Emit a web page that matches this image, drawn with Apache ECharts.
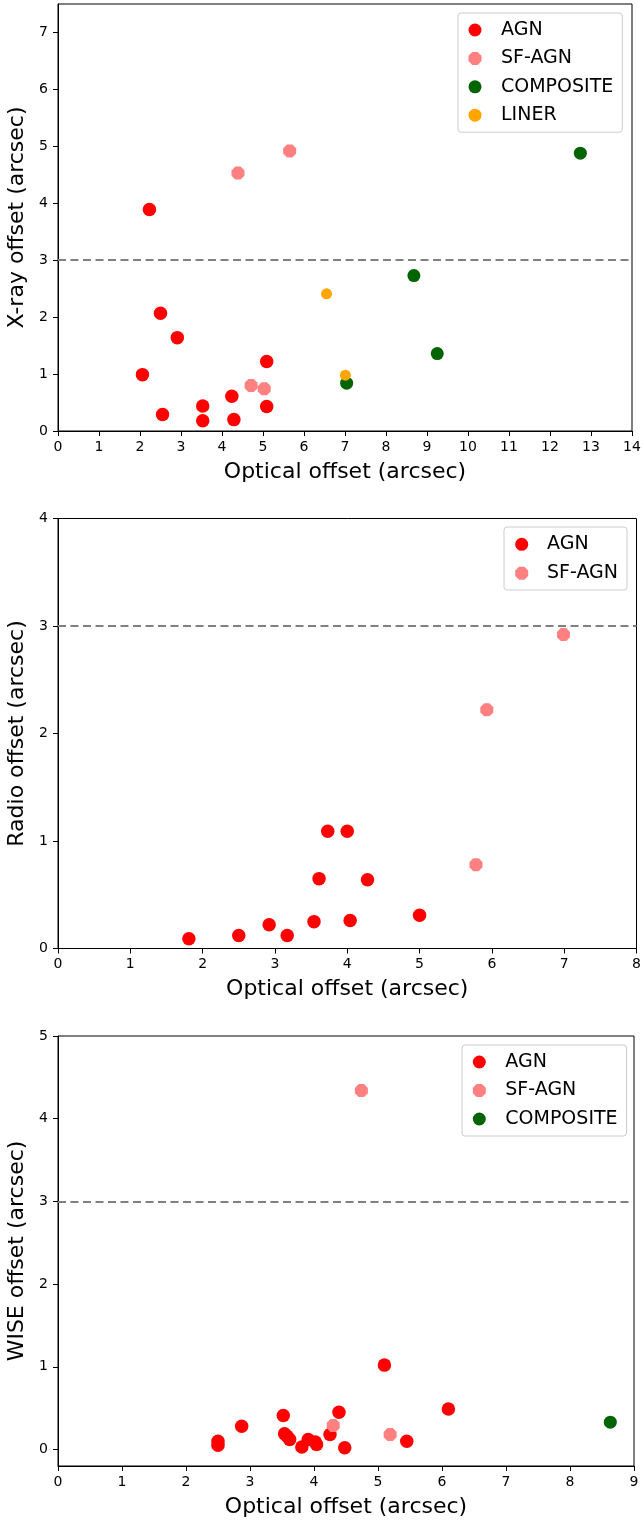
<!DOCTYPE html>
<html>
<head>
<meta charset="utf-8">
<script src="https://cdn.jsdelivr.net/npm/echarts@6/dist/echarts.min.js"></script>
<style>
  html, body { margin: 0; padding: 0; background: #fff; }
  #chart { width: 643px; height: 1524px; }
</style>
</head>
<body>
<div id="chart"></div>
<script>
// X-ray panel: [optical offset, x-ray offset]
const xrayAgn = [[2.23,3.89],[2.50,2.07],[2.91,1.64],[2.06,0.99],[2.55,0.29],[3.53,0.44],[3.53,0.18],[4.24,0.61],[4.29,0.20],[5.09,1.22],[5.09,0.43]];
const xraySfAgn = [[4.39,4.53],[5.65,4.92],[4.71,0.80],[5.03,0.74]];
const xrayComposite = [[7.04,0.84],[8.68,2.73],[9.25,1.36],[12.74,4.88]];
const xrayLiner = [[6.55,2.41],[7.01,0.98]];

// Radio panel
const radioAgn = [[1.81,0.09],[2.50,0.12],[2.92,0.22],[3.17,0.12],[3.54,0.25],[3.61,0.65],[3.73,1.09],[4.00,1.09],[4.04,0.26],[4.28,0.64],[5.00,0.31]];
const radioSfAgn = [[5.78,0.78],[5.93,2.22],[6.99,2.92]];

// WISE panel
const wiseAgn = [[2.50,0.10],[2.50,0.05],[2.87,0.28],[3.52,0.41],[3.54,0.19],[3.58,0.16],[3.62,0.12],[3.81,0.03],[3.91,0.12],[4.04,0.06],[4.02,0.09],[4.25,0.18],[4.39,0.45],[4.48,0.02],[5.10,1.02],[5.45,0.10],[6.10,0.49]];
const wiseSfAgn = [[4.74,4.34],[4.30,0.29],[5.19,0.18]];
const wiseComposite = [[8.63,0.33]];

const threshold = 3;
const xrayYTicks = [0,1,2,3,4,5,6,7];
const radioYTicks = [0,1,2,3,4];
const wiseYTicks = [0,1,2,3,4,5];

const FONT = 'DejaVu Sans';
const OCTAGON = 'path://M92 38L38 92L-38 92L-92 38L-92 -38L-38 -92L38 -92L92 -38Z';
const COLORS = { 'AGN': '#ff0000', 'SF-AGN': '#ff8080', 'COMPOSITE': '#006400', 'LINER': '#ffa500' };

function makeX(idx, max) {
    return {
        gridIndex: idx, type: 'value', min: 0, max: max, interval: 1,
        name: 'Optical offset (arcsec)', nameLocation: 'middle', nameGap: 30, nameMoveOverlap: false,
        nameTextStyle: { fontFamily: FONT, fontSize: 22, color: '#000' },
        axisLine: { show: true, onZero: false, lineStyle: { color: '#000', width: 1 } },
        axisTick: { show: true, inside: false, length: 5, lineStyle: { color: '#000', width: 1 } },
        axisLabel: { fontFamily: FONT, fontSize: 14, color: '#000', margin: 9 },
        splitLine: { show: false }
    };
}

function makeY(idx, min, max, ticks, name) {
    return {
        gridIndex: idx, type: 'value', min: min, max: max,
        name: name, nameLocation: 'middle', nameGap: 30, nameRotate: 90, nameMoveOverlap: false,
        nameTextStyle: { fontFamily: FONT, fontSize: 22, color: '#000' },
        axisLine: { show: true, lineStyle: { color: '#000', width: 1 } },
        axisTick: { show: true, inside: false, length: 5, customValues: ticks, lineStyle: { color: '#000', width: 1 } },
        axisLabel: { fontFamily: FONT, fontSize: 14, color: '#000', margin: 10, customValues: ticks },
        splitLine: { show: false }
    };
}

function makeScatter(idx, name, data, size, withLine) {
    const s = {
        name: name, type: 'scatter', xAxisIndex: idx, yAxisIndex: idx,
        data: data,
        symbol: name === 'SF-AGN' ? OCTAGON : 'circle',
        symbolSize: size,
        itemStyle: { color: COLORS[name], opacity: 1 },
        silent: true
    };
    if (withLine) {
        s.markLine = {
            silent: true, symbol: ['none', 'none'], label: { show: false },
            lineStyle: { color: '#808080', width: 2, type: [8, 4.5] },
            data: [{ yAxis: threshold }]
        };
    }
    return s;
}

function makeLegend(names, left, top, pad, textPad, gap) {
    return {
        orient: 'vertical', left: left, top: top, data: names,
        selectedMode: false,
        itemWidth: 13, itemHeight: 13, itemGap: gap,
        padding: pad,
        backgroundColor: '#fff', borderColor: '#cccccc', borderWidth: 1, borderRadius: 3,
        textStyle: { fontFamily: FONT, fontSize: 19, lineHeight: 20, color: '#000', padding: [0, 0, 0, textPad] }
    };
}

const gridStyle = { show: true, borderColor: '#000', borderWidth: 1, backgroundColor: '#fff' };

const option = {
    animation: false,
    backgroundColor: '#fff',
    grid: [
        Object.assign({ left: 58, top: 4, width: 574, height: 427, outerBoundsMode: 'none' }, gridStyle),
        Object.assign({ left: 58, top: 518.5, width: 578.5, height: 430, outerBoundsMode: 'none' }, gridStyle),
        Object.assign({ left: 58, top: 1036, width: 576, height: 430, outerBoundsMode: 'none' }, gridStyle)
    ],
    xAxis: [makeX(0, 14), makeX(1, 8), makeX(2, 9)],
    yAxis: [
        makeY(0, 0, 7.5, xrayYTicks, 'X-ray offset (arcsec)'),
        makeY(1, 0, 4, radioYTicks, 'Radio offset (arcsec)'),
        makeY(2, -0.2, 5, wiseYTicks, 'WISE offset (arcsec)')
    ],
    legend: [
        makeLegend(['AGN', 'SF-AGN', 'COMPOSITE', 'LINER'], 458, 13, [7, 9, 7, 10.5], 14.5, 8.4),
        makeLegend(['AGN', 'SF-AGN'], 504, 527, [7.3, 9, 6.7, 11.2], 13.8, 9),
        makeLegend(['AGN', 'SF-AGN', 'COMPOSITE'], 462, 1045, [7, 9, 7, 10.8], 14.5, 8.5)
    ],
    series: [
        makeScatter(0, 'AGN', xrayAgn, 13.5, true),
        makeScatter(0, 'SF-AGN', xraySfAgn, 13),
        makeScatter(0, 'COMPOSITE', xrayComposite, 13),
        makeScatter(0, 'LINER', xrayLiner, 11),
        makeScatter(1, 'AGN', radioAgn, 13.5, true),
        makeScatter(1, 'SF-AGN', radioSfAgn, 13),
        makeScatter(2, 'AGN', wiseAgn, 13.5, true),
        makeScatter(2, 'SF-AGN', wiseSfAgn, 13),
        makeScatter(2, 'COMPOSITE', wiseComposite, 13)
    ]
};

const myChart = echarts.init(document.getElementById('chart'), null, { renderer: 'canvas' });
myChart.setOption(option);
</script>
</body>
</html>
